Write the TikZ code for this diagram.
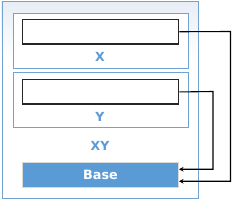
\documentclass[tikz,border=0pt]{standalone}
\usepackage{fontspec}
\setmainfont{DejaVu Sans}
\usetikzlibrary{arrows.meta}
\definecolor{frameblue}{RGB}{114,162,210}
\definecolor{textblue}{RGB}{91,155,213}
\definecolor{basefill}{RGB}{91,155,213}
\definecolor{bggray}{RGB}{232,238,246}
\begin{document}
\begin{tikzpicture}[x=1pt,y=-1pt,
  frame/.style={draw=frameblue,line width=1pt},
  slot/.style={draw=black!85,line width=1.4pt,fill=white},
  lbl/.style={text=textblue,font=\bfseries\fontsize{12.5}{14}\selectfont},
  conn/.style={draw=black,line width=1.1pt},
  arr/.style={conn,-{Stealth[length=4.5pt,width=4.5pt]}}]
\useasboundingbox (0,0) rectangle (232,200);
\shade[top color=bggray,bottom color=white] (1.5,1.5) rectangle (198,60);
\fill[white] (1.5,60) rectangle (198,198);
\node[frame,minimum width=196.5pt,minimum height=196.5pt,inner sep=0pt,anchor=north west] (outer) at (1.5,1.5) {};
\node[frame,fill=white,minimum width=175pt,minimum height=55pt,inner sep=0pt,anchor=north west] (xbox) at (12.5,12.8) {};
\node[frame,fill=white,minimum width=175pt,minimum height=55pt,inner sep=0pt,anchor=north west] (ybox) at (12.5,72) {};
\node[slot,minimum width=156pt,minimum height=24.5pt,inner sep=0pt,anchor=north west] (xs) at (22,18.8) {};
\node[slot,minimum width=156pt,minimum height=24.5pt,inner sep=0pt,anchor=north west] (ys) at (22,79) {};
\node[lbl] (xl) at (100,57) {X};
\node[lbl] (yl) at (100,116.5) {Y};
\node[lbl] (xyl) at (100,146) {XY};
\node[draw=black!15,fill=basefill,line width=1pt,minimum width=156pt,minimum height=24.5pt,inner sep=0pt,anchor=north west,text=white,font=\bfseries\fontsize{12.8}{14}\selectfont] (base) at (22,162) {Base};
\coordinate (c1) at (230.5,31.5);
\coordinate (c2) at (213,91.5);
\draw[arr] (xs.east) -- (c1) |- ([yshift=-6.5pt]base.east);
\draw[arr] (ys.east) -- (c2) |- ([yshift=5.5pt]base.east);
\end{tikzpicture}
\end{document}
